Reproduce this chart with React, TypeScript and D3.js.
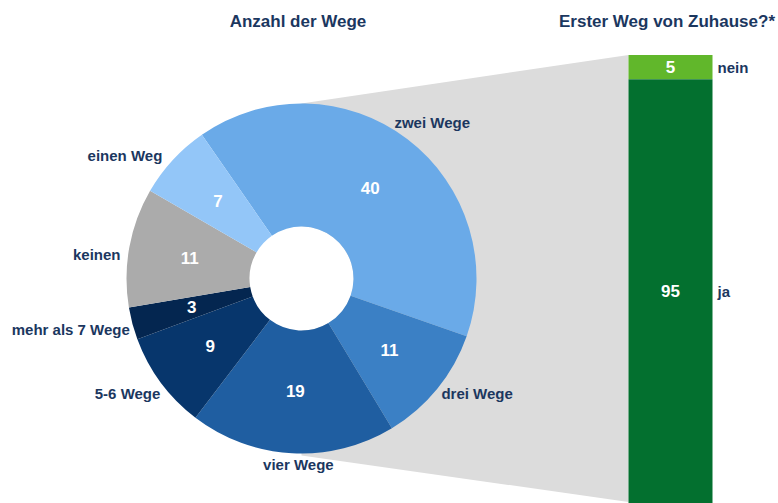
import React from "react";
import * as d3 from "d3";

const categories = ["zwei Wege", "drei Wege", "vier Wege", "5-6 Wege", "mehr als 7 Wege", "keinen", "einen Weg"];
const shares = [40, 11, 19, 9, 3, 11, 7];
const sliceColors = ["#6AAAE8", "#3B80C5", "#1F5EA1", "#07366C", "#042650", "#ABABAB", "#93C6F8"];

const barCategories = ["nein", "ja"];
const barValues = [5, 95];
const barColors = ["#61B72B", "#03702F"];

const titles = ["Anzahl der Wege", "Erster Weg von Zuhause?*"];

// layout
const W = 778;
const H = 503;
const cx = 301.5;
const cy = 278.5;
const R = 175;
const r0 = 52;
const labelR = 188;
const startDeg = -34.7;
const barX0 = 628.5;
const barX1 = 712.5;
const barTop = 55;
const barPxPerPct = 4.86;
const labelNudge: Record<string, [number, number]> = {
  "zwei Wege": [-21, -6],
  "drei Wege": [-6, -4],
  "vier Wege": [7, -2],
  "5-6 Wege": [10, 3],
  "mehr als 7 Wege": [10, 3],
  "keinen": [4, 10],
  "einen Weg": [-1, 4],
};

const navy = "#1B375F";
const font = "'Liberation Sans', Arial, sans-serif";

export default function App() {
  React.useEffect(() => {
    document.body.style.margin = "0";
  }, []);

  const data = categories.map((c, i) => ({ c, v: shares[i], color: sliceColors[i] }));
  const start = (startDeg * Math.PI) / 180;
  const pie = d3
    .pie<{ c: string; v: number; color: string }>()
    .value((d) => d.v)
    .sort(null)
    .startAngle(start)
    .endAngle(start + 2 * Math.PI);
  const arcs = pie(data);
  const arc = d3.arc<d3.PieArcDatum<any>>().innerRadius(r0).outerRadius(R);
  const lblArc = d3.arc<d3.PieArcDatum<any>>().innerRadius(labelR).outerRadius(labelR);

  const y = d3.scaleLinear().domain([0, 100]).range([barTop, barTop + 100 * barPxPerPct]);
  let acc = 0;
  const segs = barValues.map((v, i) => {
    const s = { name: barCategories[i], v, y0: y(acc), y1: y(acc + v), color: barColors[i] };
    acc += v;
    return s;
  });

  const grayPts: [number, number][] = [
    [cx, cy - R],
    [barX0, y(0)],
    [barX0, cy + (cy - y(0))],
    [cx, cy + R + 2],
  ];

  return (
    <svg width={W} height={H} style={{ position: "absolute", left: 0, top: 0, background: "#fff" }} fontFamily={font}>
      <rect width={W} height={H} fill="#fff" />
      <text x={298} y={21} textAnchor="middle" dominantBaseline="central" fontSize={17} fontWeight="bold" fill={navy}>
        {titles[0]}
      </text>
      <text x={667} y={21} textAnchor="middle" dominantBaseline="central" fontSize={17} fontWeight="bold" fill={navy}>
        {titles[1]}
      </text>

      <polygon points={grayPts.map((p) => p.join(",")).join(" ")} fill="#DCDCDC" />

      <g transform={`translate(${cx},${cy})`}>
        <circle r={r0} fill="#fff" />
        {arcs.map((a, i) => (
          <path key={i} d={arc(a) || ""} fill={a.data.color} />
        ))}
        {arcs.map((a, i) => {
          const [x, yy] = arc.centroid(a);
          return (
            <text key={"v" + i} x={x} y={yy} textAnchor="middle" dominantBaseline="central" fontSize={17} fontWeight="bold" fill="#fff">
              {a.data.v}
            </text>
          );
        })}
        {arcs.map((a, i) => {
          const [x, yy] = lblArc.centroid(a);
          const mid = (a.startAngle + a.endAngle) / 2;
          const s = Math.sin(mid);
          const anchor = s > 0.3 ? "start" : s < -0.3 ? "end" : "middle";
          const n = labelNudge[a.data.c] || [0, 0];
          return (
            <text key={"l" + i} x={x + n[0]} y={yy + n[1]} textAnchor={anchor} dominantBaseline="central" fontSize={15} fontWeight="bold" fill={navy}>
              {a.data.c}
            </text>
          );
        })}
      </g>

      {segs.map((s, i) => {
        const visBottom = Math.min(s.y1, H);
        return (
          <g key={"b" + i}>
            <rect x={barX0} y={s.y0} width={barX1 - barX0} height={s.y1 - s.y0} fill={s.color} />
            <text x={(barX0 + barX1) / 2} y={(s.y0 + visBottom) / 2} textAnchor="middle" dominantBaseline="central" fontSize={17} fontWeight="bold" fill="#fff">
              {s.v}
            </text>
            <text x={barX1 + 5} y={(s.y0 + visBottom) / 2} dominantBaseline="central" fontSize={15} fontWeight="bold" fill={navy}>
              {s.name}
            </text>
          </g>
        );
      })}
    </svg>
  );
}
